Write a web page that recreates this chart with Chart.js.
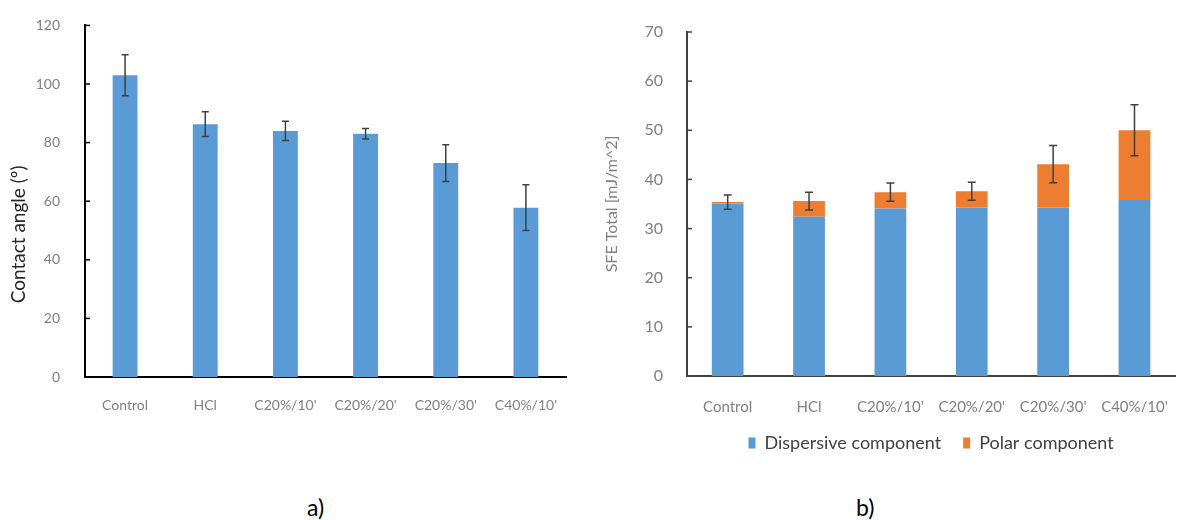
<!DOCTYPE html>
<html lang="en">
<head>
    <meta charset="UTF-8">
    <title>Contact angle and SFE</title>
    <script src="https://cdn.jsdelivr.net/npm/chart.js"></script>
    <style>
        body { margin: 0; background: #fff; font-family: 'Lato', sans-serif; }
        .wrap { position: relative; width: 1182px; height: 520px; overflow: hidden; }
        #angleChart { position: absolute; left: 0; top: 0; }
        #sfeChart { position: absolute; left: 580px; top: 0; }
        .panel { position: absolute; top: 493px; font-size: 23px; color: #000; }
    </style>
</head>
<body>
<div class="wrap">
    <canvas id="angleChart" width="580" height="430"></canvas>
    <canvas id="sfeChart" width="602" height="462"></canvas>
    <div class="panel" style="left:307px">a)</div>
    <div class="panel" style="left:856px">b)</div>
</div>

<script>
    const categories = ['Control', 'HCl', "C20%/10'", "C20%/20'", "C20%/30'", "C40%/10'"];

    // a) contact angle (º)
    const contactAngle = [103, 86.3, 84, 83, 73, 57.8];
    const contactErr = [7, 4.2, 3.3, 1.8, 6.3, 7.8];
    const angleTicks = [0, 20, 40, 60, 80, 100, 120];

    // b) surface free energy (mJ/m^2)
    const dispersive = [35.1, 32.4, 34.1, 34.3, 34.3, 35.8];
    const polar = [0.3, 3.2, 3.3, 3.3, 8.8, 14.2];
    const sfeErr = [1.45, 1.8, 1.85, 1.85, 3.8, 5.2];
    const sfeTicks = [0, 10, 20, 30, 40, 50, 60, 70];

    const blue = '#5b9bd5';
    const orange = '#ed7d31';
    const tickGray = '#7f7f7f';

    // error bars + small inner tick marks on the y axis
    const extras = {
        id: 'extras',
        afterDatasetsDraw(chart, args, opts) {
            const ctx = chart.ctx;
            const x = chart.scales.x, y = chart.scales.y;
            ctx.save();
            ctx.strokeStyle = opts.errColor;
            ctx.lineWidth = 1.5;
            opts.centers.forEach((c, i) => {
                const px = x.getPixelForValue(i);
                const top = y.getPixelForValue(c + opts.errors[i]);
                const bot = y.getPixelForValue(c - opts.errors[i]);
                ctx.beginPath();
                ctx.moveTo(px, top); ctx.lineTo(px, bot);
                ctx.moveTo(px - opts.cap, top); ctx.lineTo(px + opts.cap, top);
                ctx.moveTo(px - opts.cap, bot); ctx.lineTo(px + opts.cap, bot);
                ctx.stroke();
            });
            ctx.strokeStyle = opts.axisColor;
            ctx.lineWidth = 1.5;
            y.ticks.forEach(t => {
                const py = y.getPixelForValue(t.value);
                ctx.beginPath();
                ctx.moveTo(y.right, py); ctx.lineTo(y.right + 5, py);
                ctx.stroke();
            });
            ctx.restore();
        }
    };

    new Chart(document.getElementById('angleChart'), {
        type: 'bar',
        data: {
            labels: categories,
            datasets: [{
                label: 'Contact angle',
                data: contactAngle,
                backgroundColor: blue,
                categoryPercentage: 1,
                barPercentage: 0.31
            }]
        },
        options: {
            responsive: false,
            animation: false,
            devicePixelRatio: 1,
            layout: { padding: { left: 0, right: 14, top: 18, bottom: 0 } },
            plugins: {
                legend: { display: false },
                tooltip: { enabled: false },
                extras: {
                    centers: contactAngle, errors: contactErr, cap: 3.5,
                    errColor: '#404040', axisColor: '#000'
                }
            },
            scales: {
                x: {
                    grid: { display: false },
                    border: { color: '#000', width: 2 },
                    ticks: { color: tickGray, font: { family: 'Lato', size: 14 }, padding: 12, maxRotation: 0 },
                    afterFit: s => { s.height = 53; }
                },
                y: {
                    min: 0, max: 120,
                    afterBuildTicks: s => { s.ticks = angleTicks.map(v => ({ value: v })); },
                    grid: { display: false },
                    border: { color: '#000', width: 2 },
                    ticks: { color: tickGray, font: { family: 'Lato', size: 14 }, padding: 17 },
                    title: {
                        display: true,
                        text: 'Contact angle (º)\u2002\u2002\u2002\u2002\u2002\u2002\u2002',
                        color: '#262626',
                        font: { family: 'Lato', size: 19 },
                        padding: { top: 7, bottom: 0 }
                    },
                    afterFit: s => { s.width = 85; }
                }
            }
        },
        plugins: [extras]
    });

    new Chart(document.getElementById('sfeChart'), {
        type: 'bar',
        data: {
            labels: categories,
            datasets: [{
                label: 'Dispersive component',
                data: dispersive,
                backgroundColor: blue,
                categoryPercentage: 1,
                barPercentage: 0.39
            }, {
                label: 'Polar component',
                data: polar,
                backgroundColor: orange,
                categoryPercentage: 1,
                barPercentage: 0.39
            }]
        },
        options: {
            responsive: false,
            animation: false,
            devicePixelRatio: 1,
            layout: { padding: { left: 0, right: 2, top: 32, bottom: 0 } },
            plugins: {
                legend: {
                    position: 'bottom',
                    fullSize: false,
                    labels: {
                        color: '#404040',
                        font: { family: 'Lato', size: 18 },
                        boxWidth: 7, boxHeight: 11,
                        padding: 22
                    }
                },
                tooltip: { enabled: false },
                extras: {
                    centers: dispersive.map((d, i) => d + polar[i]), errors: sfeErr, cap: 4,
                    errColor: '#404040', axisColor: '#404040'
                }
            },
            scales: {
                x: {
                    stacked: true,
                    grid: { display: false },
                    border: { color: '#404040', width: 2 },
                    ticks: { color: tickGray, font: { family: 'Lato', size: 15 }, padding: 14, maxRotation: 0 },
                    afterFit: s => { s.height = 36; }
                },
                y: {
                    stacked: true,
                    min: 0, max: 70,
                    afterBuildTicks: s => { s.ticks = sfeTicks.map(v => ({ value: v })); },
                    grid: { display: false },
                    border: { color: '#404040', width: 2 },
                    ticks: { color: tickGray, font: { family: 'Lato', size: 16 }, padding: 16 },
                    title: {
                        display: true,
                        text: 'SFE Total [mJ/m^2]',
                        color: '#7f7f7f',
                        font: { family: 'Lato', size: 16 },
                        padding: { top: 22, bottom: 0 }
                    },
                    afterFit: s => { s.width = 107; }
                }
            }
        },
        plugins: [extras]
    });
</script>
</body>
</html>
